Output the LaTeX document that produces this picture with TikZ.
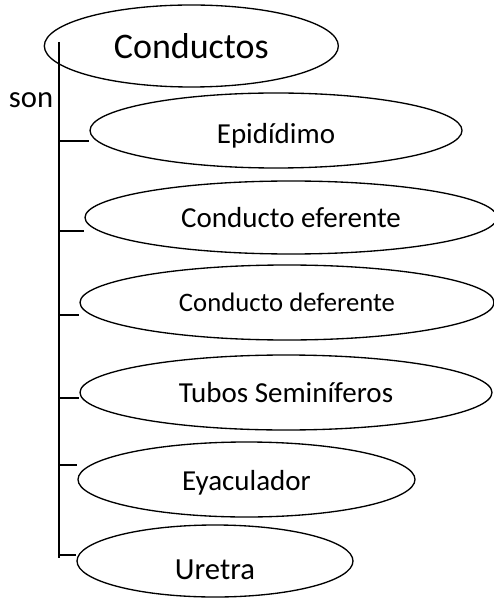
\documentclass[tikz,border=0pt]{standalone}
\usepackage{fontspec}
\setmainfont{Carlito}
\usepackage{tikz}
\usetikzlibrary{shapes.geometric}

\tikzset{elli/.style={ellipse,draw,line width=1pt,inner sep=0pt},
  big/.style={font=\fontsize{21.75}{26}\selectfont}}

\begin{document}
\begin{tikzpicture}[x=0.75pt,y=0.75pt,yscale=-1,xscale=1]
\useasboundingbox (0,0) rectangle (493,598);
% ellipses
\draw (194,46) node [elli,minimum width=220.5pt,minimum height=61.5pt,font=\fontsize{27}{32}\selectfont,xshift=-2pt] (cond) {Conductos};
\draw (276,130.5) node [elli,big,minimum width=279pt,minimum height=56.25pt,text height=23pt] (epi) {Epidídimo};
\draw (291,217.5) node [elli,big,minimum width=309pt,minimum height=54.75pt] (efe) {Conducto eferente};
\draw (287,302.5) node [elli,minimum width=310.5pt,minimum height=56.25pt,font=\fontsize{20}{24}\selectfont] (def) {Conducto deferente};
\draw (286,392.5) node [elli,big,minimum width=309pt,minimum height=56.25pt] (tub) {Tubos Seminíferos};
\draw (246.5,479.5) node [elli,big,minimum width=252.75pt,minimum height=56.25pt,text height=20pt] (eya) {Eyaculador};
\draw (215,561) node [elli,minimum width=207pt,minimum height=54pt,font=\fontsize{23}{28}\selectfont,text height=28pt] (ure) {Uretra};
\draw (31,100) node [font=\fontsize{23}{28}\selectfont,inner sep=0pt] (son) {son};
% trunk and ticks
\coordinate (top) at (59,42);
\coordinate (bot) at (59,558);
\draw [line width=0.9pt] (top) -- (bot);
\coordinate (t1) at (59,141);
\coordinate (t2) at (59,231);
\coordinate (t3) at (59,315);
\coordinate (t4) at (59,398);
\coordinate (t5) at (59,465);
\coordinate (t6) at (59,555);
\draw [line width=0.9pt] (t1) -- (t1 -| epi.west);
\draw [line width=0.9pt] (t2) -- (t2 -| efe.west);
\draw [line width=0.9pt] (t3) -- (t3 -| def.west);
\draw [line width=0.9pt] (t4) -- (t4 -| tub.west);
\draw [line width=0.9pt] (t5) -- (t5 -| eya.west);
\draw [line width=0.9pt] (t6) -- (t6 -| ure.west);
\end{tikzpicture}
\end{document}
